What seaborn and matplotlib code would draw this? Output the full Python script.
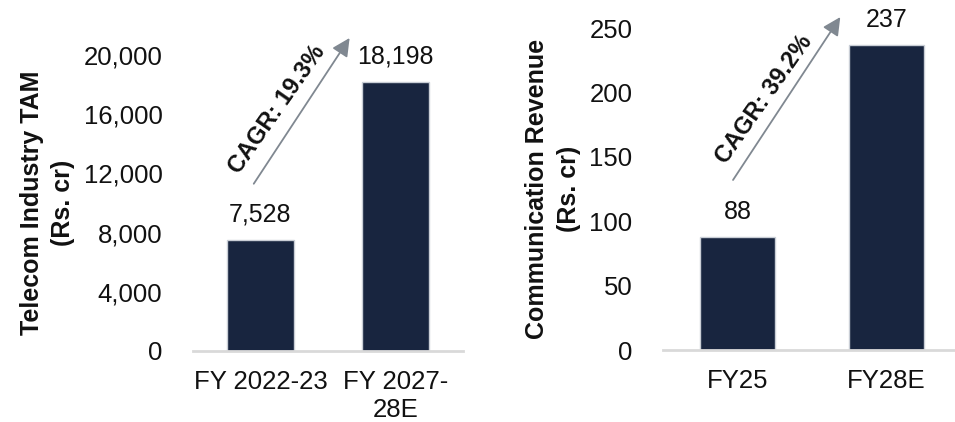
import matplotlib
matplotlib.use("Agg")
import matplotlib.pyplot as plt
import seaborn as sns
import pandas as pd

# Telecom industry total addressable market
tam_years = ["FY 2022-23", "FY 2027-\n28E"]
tam_values = [7528, 18198]
tam_labels = ["7,528", "18,198"]
tam_cagr = "CAGR: 19.3%"
tam_ticks = [0, 4000, 8000, 12000, 16000, 20000]

# Communication revenue
rev_years = ["FY25", "FY28E"]
rev_values = [88, 237]
rev_labels = ["88", "237"]
rev_cagr = "CAGR: 39.2%"
rev_ticks = [0, 50, 100, 150, 200, 250]

sns.set_theme(style="white")
plt.rcParams["font.family"] = ["Liberation Sans", "DejaVu Sans"]

BAR = "#18253f"
EDGE = "#c9ced6"
ARROW = "#808891"
AXIS = "#d9d9d9"
INK = "#111111"

fig = plt.figure(figsize=(9.55, 4.22), dpi=100)
W, H = 955, 422


def px_axes(x0, x1, ybase, ytop):
    return fig.add_axes([x0 / W, 1 - ybase / H, (x1 - x0) / W, (ybase - ytop) / H])


def panel(ax, cats, vals, labels, ticks, ylabel, cagr, arrow_from, arrow_to,
          text_xy, label_pad, tick_fmt, xmax, ylabel_pad):
    df = pd.DataFrame({"cat": cats, "val": vals})
    sns.barplot(data=df, x="cat", y="val", ax=ax, color=BAR, width=0.5,
                edgecolor=EDGE, linewidth=1, saturation=1)
    ax.set_xlim(-0.5, xmax)
    ax.set_ylim(0, ticks[-1])
    ax.set_yticks(ticks)
    ax.set_yticklabels([tick_fmt(t) for t in ticks], fontsize=18.5, color=INK)
    ax.tick_params(axis="x", labelsize=18.5, colors=INK, length=0, pad=14)
    ax.tick_params(axis="y", length=0, pad=22)
    ax.set_xlabel("")
    ax.set_ylabel(ylabel, fontsize=18, fontweight="bold", color=INK,
                  labelpad=ylabel_pad, linespacing=1.4)
    for s in ["top", "right", "left"]:
        ax.spines[s].set_visible(False)
    ax.spines["bottom"].set_color(AXIS)
    ax.spines["bottom"].set_linewidth(2)
    ax.patch.set_alpha(0)
    for i, (v, lab) in enumerate(zip(vals, labels)):
        ax.text(i, v + label_pad, lab, ha="center", va="center", fontsize=18,
                color=INK, clip_on=False)
    ax.annotate("", xy=arrow_to, xytext=arrow_from, annotation_clip=False,
                arrowprops=dict(arrowstyle="-|>,head_length=0.9,head_width=0.45",
                                color=ARROW, lw=1.3, shrinkA=0, shrinkB=0))
    ax.text(text_xy[0], text_xy[1], cagr, rotation=55, rotation_mode="anchor",
            ha="center", va="center", fontsize=17, fontweight="bold",
            color=INK, clip_on=False)


ax1 = px_axes(193, 463, 351, 55)
panel(ax1, tam_years, tam_values, tam_labels, tam_ticks,
      "Telecom Industry TAM\n(Rs. cr)", tam_cagr,
      (-0.05, 11300), (0.66, 21150), (0.12, 16300), 1700,
      lambda t: f"{t:,}", 1.5, 6)

ax2 = px_axes(663, 955, 350, 28)
panel(ax2, rev_years, rev_values, rev_labels, rev_ticks,
      "Communication Revenue\n(Rs. cr)", rev_cagr,
      (-0.03, 132), (0.69, 258.5), (0.18, 195), 19,
      lambda t: f"{t}", 1.46, 6)

fig.savefig("out.png", dpi=100)
